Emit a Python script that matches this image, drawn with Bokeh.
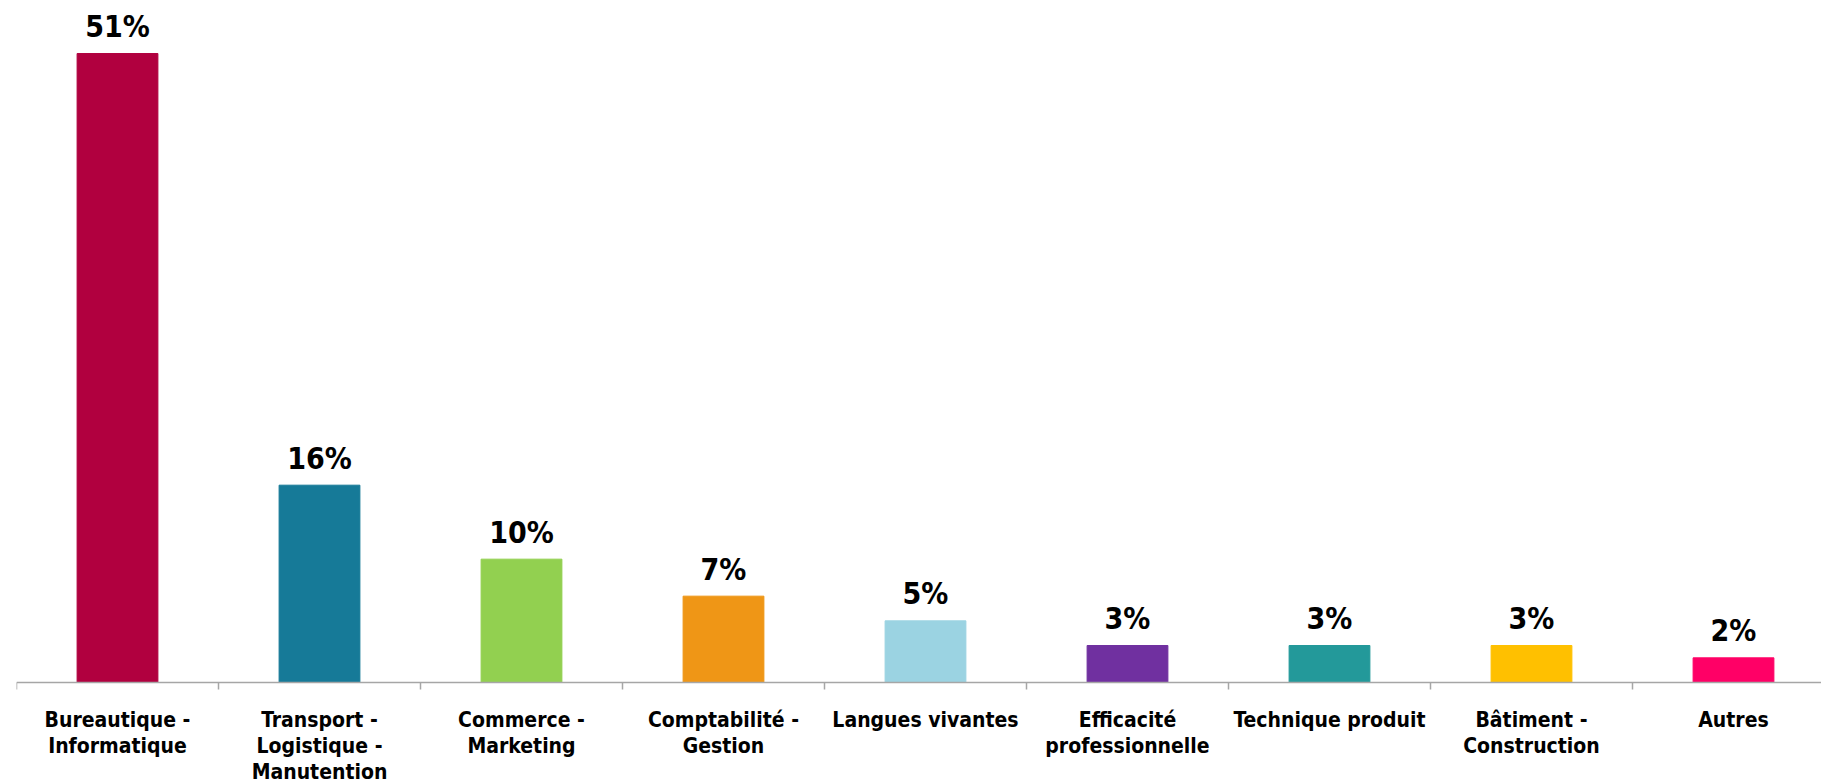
from bokeh.plotting import figure
from bokeh.models import ColumnDataSource, FixedTicker, Range1d
from bokeh.core.properties import value
from bokeh.embed import file_html
from bokeh.resources import INLINE

categories = ["Bureautique -\nInformatique", "Transport -\nLogistique -\nManutention",
              "Commerce -\nMarketing", "Comptabilité -\nGestion", "Langues vivantes",
              "Efficacité\nprofessionnelle", "Technique produit", "Bâtiment -\nConstruction",
              "Autres"]
values = [51, 16, 10, 7, 5, 3, 3, 3, 2]
labels = ["51%", "16%", "10%", "7%", "5%", "3%", "3%", "3%", "2%"]
colors = ["#B1003F", "#167A98", "#92D050", "#EF9616", "#9BD3E2",
          "#7030A0", "#23999A", "#FFC000", "#FF0066"]

centers = [i + 0.5 for i in range(len(categories))]
src = ColumnDataSource(dict(x=centers, top=values, lab=labels, color=colors))

W, H = 1821, 779
left = 16
frame_w = W - left
axis_y = 682
ppu = 12.333
p = figure(width=W, height=H, output_backend="svg", toolbar_location=None,
           x_range=Range1d(0, frame_w / 202.0),
           y_range=Range1d(-(H - axis_y) / ppu, axis_y / ppu),
           y_axis_location=None, min_border_left=left, min_border_right=0,
           min_border_top=0, min_border_bottom=0)
p.outline_line_color = None
p.grid.visible = False
p.background_fill_color = "white"
p.border_fill_color = "white"

p.vbar(x="x", top="top", width=0.4, bottom=0, color="color", source=src)
p.text(x="x", y="top", text="lab", source=src, text_align="center",
       text_baseline="alphabetic", y_offset=-27,
       text_font=value("DejaVu Sans Condensed"), text_font_style="bold",
       text_font_size="30px", text_color="black")

ax = p.xaxis[0]
ax.fixed_location = 0
ax.ticker = FixedTicker(ticks=centers, minor_ticks=list(range(len(categories) + 1)))
ax.major_label_overrides = {c: lab for c, lab in zip(centers, categories)}
ax.axis_line_color = "#A6A6A6"
ax.axis_line_width = 1.5
ax.major_tick_line_color = None
ax.major_tick_out = 0
ax.major_tick_in = 0
ax.minor_tick_line_color = "#A6A6A6"
ax.minor_tick_line_width = 1.5
ax.minor_tick_out = 7
ax.minor_tick_in = 0
ax.major_label_standoff = 18
ax.major_label_text_font = "DejaVu Sans Condensed"
ax.major_label_text_font_style = "bold"
ax.major_label_text_font_size = "21px"
ax.major_label_text_line_height = 1.1
ax.major_label_text_color = "black"
ax.major_label_text_align = "center"

open("out.html", "w").write(file_html(p, INLINE))
